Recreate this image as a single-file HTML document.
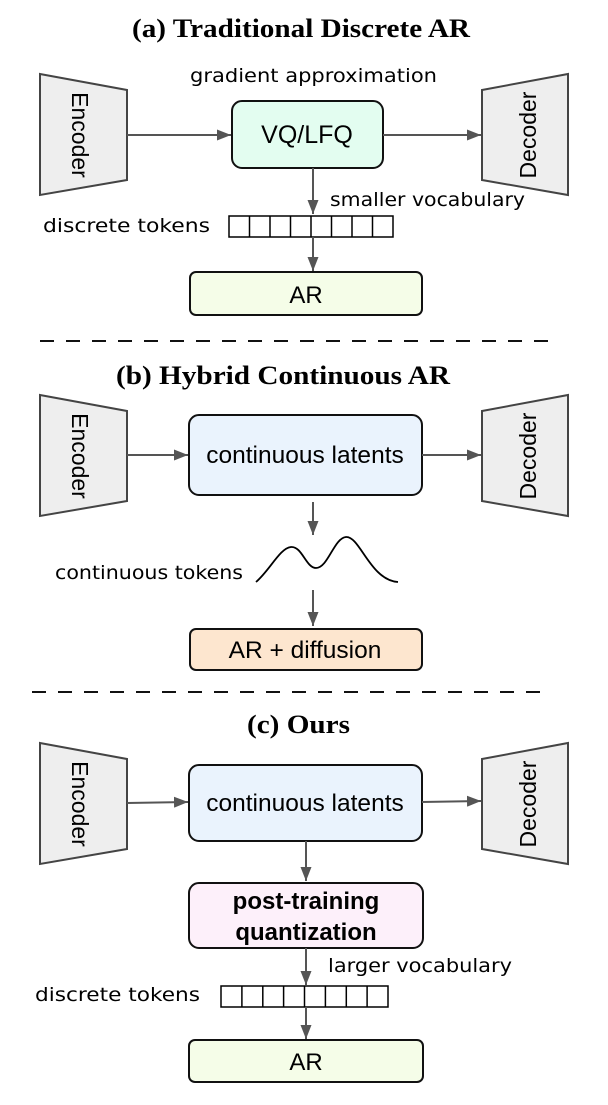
<!DOCTYPE html>
<html><head><meta charset="utf-8"><style>
html,body{margin:0;padding:0;background:#fff;}
svg{display:block;}
.t{font-family:"Liberation Serif",serif;font-weight:bold;font-size:26px;fill:#000;}
.s{font-family:"Liberation Sans",sans-serif;fill:#000;}
.h{font-family:"DejaVu Sans","Liberation Sans",sans-serif;font-size:19px;fill:#000;}
.tr{fill:#eeeeee;stroke:#444;stroke-width:2;}
.bx{stroke:#111;stroke-width:2;}
.ar{stroke:#555;stroke-width:2;fill:none;}
</style></head><body>
<svg width="608" height="1105" viewBox="0 0 608 1105" xmlns="http://www.w3.org/2000/svg">
<defs>
<marker id="mb" viewBox="0 0 10 10" refX="10" refY="5" markerWidth="14" markerHeight="11" markerUnits="userSpaceOnUse" orient="auto" preserveAspectRatio="none">
<path d="M0,0 L10,5 L0,10 z" fill="#555"/></marker>
</defs>

<!-- (a) -->
<text class="t" x="132" y="37" textLength="338" lengthAdjust="spacingAndGlyphs">(a) Traditional Discrete AR</text>
<polygon class="tr" points="40,74 127,90 127,180 40,195"/>
<text class="s" font-size="23" transform="translate(72,135) rotate(90)" text-anchor="middle">Encoder</text>
<polygon class="tr" points="482,90 568,74 568,195 482,180"/>
<text class="s" font-size="23" transform="translate(536,135) rotate(-90)" text-anchor="middle">Decoder</text>
<text class="h" x="190" y="82" textLength="247" lengthAdjust="spacingAndGlyphs">gradient approximation</text>
<rect class="bx" x="232" y="101" width="151" height="67" rx="10" fill="#e3fdf0"/>
<text class="s" font-size="25" x="307" y="143" text-anchor="middle">VQ/LFQ</text>
<line class="ar" x1="127" y1="135" x2="231" y2="135" marker-end="url(#mb)"/>
<line class="ar" x1="383" y1="135" x2="481" y2="135" marker-end="url(#mb)"/>
<line class="ar" x1="313" y1="168" x2="313" y2="214" marker-end="url(#mb)"/>
<text class="h" x="330" y="206" textLength="195" lengthAdjust="spacingAndGlyphs">smaller vocabulary</text>
<text class="h" x="43" y="232" textLength="167" lengthAdjust="spacingAndGlyphs">discrete tokens</text>
<g stroke="#000" stroke-width="1.5" fill="#fff">
<rect x="229" y="216" width="164" height="21"/>
<line x1="249.5" y1="216" x2="249.5" y2="237"/><line x1="270" y1="216" x2="270" y2="237"/><line x1="290.5" y1="216" x2="290.5" y2="237"/><line x1="311" y1="216" x2="311" y2="237"/><line x1="331.5" y1="216" x2="331.5" y2="237"/><line x1="352" y1="216" x2="352" y2="237"/><line x1="372.5" y1="216" x2="372.5" y2="237"/>
</g>
<line class="ar" x1="313" y1="237" x2="313" y2="271" marker-end="url(#mb)"/>
<rect class="bx" x="190" y="272" width="232" height="43" rx="6" fill="#f5fde8"/>
<text class="s" font-size="24" x="306" y="303" text-anchor="middle">AR</text>

<line x1="40" y1="341" x2="560" y2="341" stroke="#111" stroke-width="2" stroke-dasharray="14,12"/>

<!-- (b) -->
<text class="t" x="116" y="384" textLength="334" lengthAdjust="spacingAndGlyphs">(b) Hybrid Continuous AR</text>
<polygon class="tr" points="40,395 127,411 127,501 40,516"/>
<text class="s" font-size="23" transform="translate(72,456) rotate(90)" text-anchor="middle">Encoder</text>
<polygon class="tr" points="482,411 568,395 568,516 482,501"/>
<text class="s" font-size="23" transform="translate(536,456) rotate(-90)" text-anchor="middle">Decoder</text>
<rect class="bx" x="189" y="415" width="233" height="80" rx="10" fill="#eaf3fd"/>
<text class="s" font-size="24.5" x="305" y="463" text-anchor="middle">continuous latents</text>
<line class="ar" x1="127" y1="455" x2="188" y2="455" marker-end="url(#mb)"/>
<line class="ar" x1="422" y1="455" x2="481" y2="455" marker-end="url(#mb)"/>
<line class="ar" x1="313" y1="502" x2="313" y2="535" marker-end="url(#mb)"/>
<text class="h" x="55" y="579" textLength="188" lengthAdjust="spacingAndGlyphs">continuous tokens</text>
<path d="M256,582 C270,570 280,548 291,547 C302,546 306,568 316,568 C328,568 334,538 346,537 C360,536 370,580 398,582" stroke="#000" stroke-width="1.8" fill="none"/>
<line class="ar" x1="313" y1="590" x2="313" y2="626" marker-end="url(#mb)"/>
<rect class="bx" x="190" y="629" width="232" height="41" rx="6" fill="#fde6cf"/>
<text class="s" font-size="24.5" x="305" y="658" text-anchor="middle">AR + diffusion</text>

<line x1="32" y1="692" x2="550" y2="692" stroke="#111" stroke-width="2" stroke-dasharray="14,12"/>

<!-- (c) -->
<text class="t" x="247" y="733" textLength="103" lengthAdjust="spacingAndGlyphs">(c) Ours</text>
<polygon class="tr" points="40,743 127,759 127,849 40,864"/>
<text class="s" font-size="23" transform="translate(72,804) rotate(90)" text-anchor="middle">Encoder</text>
<polygon class="tr" points="482,759 568,743 568,864 482,849"/>
<text class="s" font-size="23" transform="translate(536,804) rotate(-90)" text-anchor="middle">Decoder</text>
<rect class="bx" x="189" y="765" width="233" height="76" rx="10" fill="#eaf3fd"/>
<text class="s" font-size="24.5" x="305" y="811" text-anchor="middle">continuous latents</text>
<line class="ar" x1="127" y1="803" x2="188" y2="802" marker-end="url(#mb)"/>
<line class="ar" x1="422" y1="802" x2="481" y2="801" marker-end="url(#mb)"/>
<line class="ar" x1="306" y1="841" x2="306" y2="881" marker-end="url(#mb)"/>
<rect class="bx" x="189" y="883" width="234" height="65" rx="10" fill="#fdf0fa"/>
<text class="s" font-size="24" font-weight="bold" x="306" y="909" text-anchor="middle">post-training</text>
<text class="s" font-size="24" font-weight="bold" x="306" y="940" text-anchor="middle">quantization</text>
<line class="ar" x1="306" y1="948" x2="306" y2="985" marker-end="url(#mb)"/>
<text class="h" x="328" y="972" textLength="184" lengthAdjust="spacingAndGlyphs">larger vocabulary</text>
<text class="h" x="35" y="1001" textLength="165" lengthAdjust="spacingAndGlyphs">discrete tokens</text>
<g stroke="#000" stroke-width="1.5" fill="#fff">
<rect x="221" y="986" width="167" height="21"/>
<line x1="241.9" y1="986" x2="241.9" y2="1007"/><line x1="262.8" y1="986" x2="262.8" y2="1007"/><line x1="283.6" y1="986" x2="283.6" y2="1007"/><line x1="304.5" y1="986" x2="304.5" y2="1007"/><line x1="325.4" y1="986" x2="325.4" y2="1007"/><line x1="346.3" y1="986" x2="346.3" y2="1007"/><line x1="367.1" y1="986" x2="367.1" y2="1007"/>
</g>
<line class="ar" x1="306" y1="1007" x2="306" y2="1039" marker-end="url(#mb)"/>
<rect class="bx" x="189" y="1040" width="234" height="42" rx="6" fill="#f5fde8"/>
<text class="s" font-size="24" x="306" y="1070" text-anchor="middle">AR</text>
</svg>
</body></html>
